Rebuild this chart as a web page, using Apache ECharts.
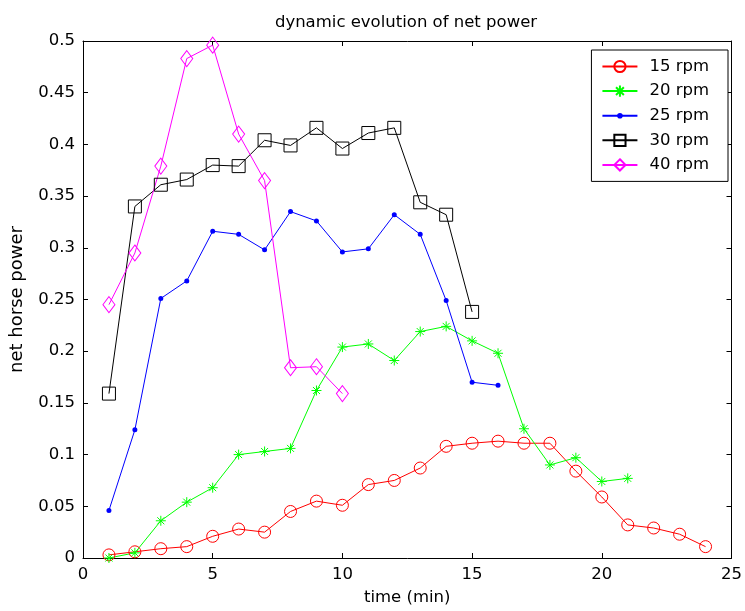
<!DOCTYPE html>
<html>
<head>
<meta charset="utf-8">
<script src="https://cdn.jsdelivr.net/npm/echarts@6/dist/echarts.min.js"></script>
<style>
  html, body { margin: 0; padding: 0; background: #fff; }
  #chart { width: 745px; height: 611px; }
</style>
</head>
<body>
<div id="chart"></div>
<script>
// time in minutes for each series
const time15 = [1,2,3,4,5,6,7,8,9,10,11,12,13,14,15,16,17,18,19,20,21,22,23,24];
const time20 = [1,2,3,4,5,6,7,8,9,10,11,12,13,14,15,16,17,18,19,20,21];
const time25 = [1,2,3,4,5,6,7,8,9,10,11,12,13,14,15,16];
const time30 = [1,2,3,4,5,6,7,8,9,10,11,12,13,14,15];
const time40 = [1,2,3,4,5,6,7,8,9,10];

// net horse power
const power15 = [0.003,0.006,0.009,0.011,0.021,0.028,0.025,0.045,0.055,0.051,0.071,0.075,0.087,0.108,0.111,0.113,0.111,0.111,0.084,0.059,0.032,0.029,0.023,0.011];
const power20 = [0.0,0.005,0.036,0.054,0.068,0.100,0.103,0.106,0.162,0.204,0.207,0.191,0.219,0.224,0.210,0.198,0.125,0.090,0.097,0.074,0.077];
const power25 = [0.046,0.124,0.251,0.268,0.316,0.313,0.298,0.335,0.326,0.296,0.299,0.332,0.313,0.249,0.170,0.167];
const power30 = [0.159,0.340,0.361,0.366,0.380,0.379,0.404,0.399,0.416,0.396,0.411,0.416,0.344,0.332,0.238];
const power40 = [0.245,0.295,0.379,0.483,0.496,0.410,0.365,0.184,0.185,0.159];

const seriesNames = ['15 rpm','20 rpm','25 rpm','30 rpm','40 rpm'];

const pairs = (xs, ys) => xs.map((x, i) => [x, ys[i]]);

// asterisk drawn as stroked spokes
const asterisk = 'path://M0,-5L0,5M-5,0L5,0M-3.5,-3.5L3.5,3.5M-3.5,3.5L3.5,-3.5';
// small dot inside a padded box so the dot stays small at any symbol size
const smallDot = 'path://M-5,-5L-5,-5ZM5,5L5,5ZM-2.5,0A2.5,2.5,0,1,1,2.5,0A2.5,2.5,0,1,1,-2.5,0Z';

const font = 'DejaVu Sans, Verdana, sans-serif';

const chart = echarts.init(document.getElementById('chart'), null, { renderer: 'canvas' });

function lineSeries(name, data, color, symbol, size, filled) {
  return {
    name: name,
    type: 'line',
    data: data,
    xAxisIndex: 0,
    yAxisIndex: 0,
    symbol: symbol,
    symbolSize: size,
    showAllSymbol: true,
    animation: false,
    lineStyle: { color: color, width: 1 },
    itemStyle: filled
      ? { color: color, borderWidth: 0 }
      : { color: 'rgba(0,0,0,0)', borderColor: color, borderWidth: 1 },
    emphasis: { disabled: true }
  };
}

const tickInside = { show: true, inside: true, length: 5, lineStyle: { color: '#000', width: 1 } };
const axisLineStyle = { show: true, onZero: false, lineStyle: { color: '#000', width: 1 } };

chart.setOption({
  backgroundColor: '#fff',
  animation: false,
  title: {
    text: 'dynamic evolution of net power',
    left: 401,
    textAlign: 'center',
    top: 9,
    textStyle: { fontFamily: font, fontSize: 16.5, fontWeight: 'normal', color: '#000' }
  },
  legend: {
    orient: 'vertical',
    right: 17,
    top: 50,
    padding: [8, 19, 8, 10],
    itemWidth: 35,
    itemHeight: 14,
    itemGap: 7.6,
    backgroundColor: '#fff',
    borderColor: '#000',
    borderWidth: 1,
    borderRadius: 0,
    data: seriesNames,
    textStyle: { fontFamily: font, fontSize: 16.5, color: '#000', padding: [0, 0, 0, 7] }
  },
  grid: { left: 80, right: 8, top: 41, bottom: 53, containLabel: false },
  xAxis: [
    {
      type: 'value', min: 0, max: 25, interval: 5,
      name: 'time (min)', nameLocation: 'middle', nameGap: 31,
      nameTextStyle: { fontFamily: font, fontSize: 16.5, color: '#000' },
      axisLine: axisLineStyle, axisTick: tickInside,
      axisLabel: { fontFamily: font, fontSize: 16.5, color: '#000', margin: 8 },
      splitLine: { show: false }
    },
    {
      type: 'value', min: 0, max: 25, interval: 5, position: 'top',
      axisLine: axisLineStyle, axisTick: tickInside,
      axisLabel: { show: false }, splitLine: { show: false }
    }
  ],
  yAxis: [
    {
      type: 'value', min: 0, max: 0.5, interval: 0.05,
      name: 'net horse power', nameLocation: 'middle', nameGap: 57,
      nameTextStyle: { fontFamily: font, fontSize: 18, color: '#000' },
      axisLine: axisLineStyle, axisTick: tickInside,
      axisLabel: { fontFamily: font, fontSize: 16.5, color: '#000', margin: 8,
        formatter: v => String(+v.toFixed(2)) },
      splitLine: { show: false }
    },
    {
      type: 'value', min: 0, max: 0.5, interval: 0.05, position: 'right',
      axisLine: axisLineStyle, axisTick: tickInside,
      axisLabel: { show: false }, splitLine: { show: false }
    }
  ],
  series: [
    lineSeries(seriesNames[0], pairs(time15, power15), '#ff0000', 'circle', 12, false),
    lineSeries(seriesNames[1], pairs(time20, power20), '#00ff00', asterisk, 10, false),
    lineSeries(seriesNames[2], pairs(time25, power25), '#0000ff', smallDot, 10, true),
    lineSeries(seriesNames[3], pairs(time30, power30), '#000000', 'rect', 13, false),
    lineSeries(seriesNames[4], pairs(time40, power40), '#ff00ff', 'diamond', [12, 16], false)
  ]
});
</script>
</body>
</html>
